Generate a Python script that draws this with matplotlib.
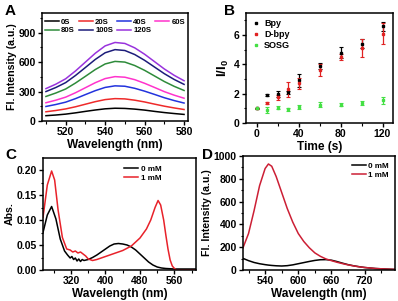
import matplotlib
matplotlib.use("Agg")
import matplotlib.pyplot as plt
from matplotlib.ticker import AutoMinorLocator

plt.rcParams['font.family'] = ['Liberation Sans', 'DejaVu Sans']
plt.rcParams['font.weight'] = 'bold'
plt.rcParams['axes.labelweight'] = 'bold'
plt.rcParams['mathtext.fontset'] = 'custom'
plt.rcParams['mathtext.rm'] = 'Liberation Sans:bold'
plt.rcParams['mathtext.it'] = 'Liberation Sans:bold'
plt.rcParams['mathtext.bf'] = 'Liberation Sans:bold'

# panel A: emission spectra vs irradiation time
wl_a = [510, 515, 520, 525, 530, 535, 540, 545, 550, 555, 560, 565, 570, 575, 580]
a_labels = ["0S", "20S", "40S", "60S", "80S", "100S", "120S"]
a_0s = [54, 61, 70, 83, 98, 112, 124, 130, 128, 121, 111, 98, 86, 76, 67]
a_20s = [94, 107, 123, 145, 171, 197, 218, 228, 225, 212, 194, 172, 151, 133, 117]
a_40s = [148, 168, 192, 228, 269, 309, 342, 358, 354, 333, 304, 271, 237, 208, 183]
a_60s = [186, 212, 243, 288, 339, 390, 432, 452, 446, 421, 384, 342, 299, 263, 232]
a_80s = [250, 285, 326, 387, 455, 524, 581, 607, 600, 565, 516, 459, 402, 353, 311]
a_100s = [300, 341, 391, 464, 545, 627, 695, 727, 718, 677, 618, 550, 482, 423, 373]
a_120s = [330, 375, 430, 510, 600, 690, 765, 800, 790, 745, 680, 605, 530, 465, 410]
a_colors = ['black', '#ee2a2a', '#2233dd', '#ff33cc', '#2e8b3a', '#1c1c7a', '#9933dd']

# panel B: I/I0 vs time
t_b = [0, 10, 20, 30, 40, 60, 80, 100, 120]
bpy = [1.0, 1.9, 2.0, 2.1, 2.9, 3.9, 4.8, 5.4, 6.6]
bpy_err = [0.05, 0.05, 0.2, 0.1, 0.45, 0.2, 0.4, 0.3, 0.3]
dbpy = [1.0, 1.35, 1.75, 2.3, 2.7, 3.6, 4.5, 5.1, 6.1]
dbpy_err = [0.05, 0.05, 0.15, 0.5, 0.35, 0.4, 0.2, 0.6, 0.7]
sosg = [1.0, 0.9, 1.05, 0.95, 1.1, 1.25, 1.25, 1.35, 1.55]
sosg_err = [0.05, 0.2, 0.12, 0.1, 0.15, 0.15, 0.1, 0.15, 0.25]

# panel C: absorption
wl_c0 = [255, 265, 275, 285, 295, 305, 312, 318, 322, 326, 330, 334, 338, 342, 346, 350,
         360, 370, 380, 390, 400, 410, 420, 430, 440, 450, 460, 470, 480, 490, 500, 510,
         520, 530, 540, 560, 580, 610]
abs_0 = [0.075, 0.11, 0.127, 0.102, 0.062, 0.038, 0.03, 0.024, 0.027, 0.021, 0.024, 0.018,
         0.022, 0.017, 0.021, 0.019, 0.021, 0.025, 0.03, 0.036, 0.042, 0.048, 0.052, 0.053,
         0.052, 0.05, 0.046, 0.04, 0.032, 0.024, 0.016, 0.01, 0.006, 0.004, 0.003, 0.002,
         0.002, 0.002]
wl_c1 = [255, 265, 275, 282, 290, 300, 310, 318, 324, 330, 336, 342, 348, 354, 360, 370,
         380, 400, 420, 440, 460, 480, 495, 505, 515, 522, 528, 535, 540, 545, 550, 555,
         560, 565, 575, 610]
abs_1 = [0.105, 0.17, 0.198, 0.18, 0.12, 0.065, 0.042, 0.04, 0.036, 0.038, 0.034, 0.036,
         0.032, 0.028, 0.022, 0.019, 0.021, 0.027, 0.033, 0.039, 0.048, 0.064, 0.082, 0.1,
         0.125, 0.139, 0.13, 0.1, 0.07, 0.042, 0.02, 0.008, 0.003, 0.0, 0.0, 0.0]

# panel D: emission 0 mM vs 1 mM
wl_d = [500, 510, 520, 530, 540, 546, 552, 560, 570, 580, 590, 600, 610, 620, 630, 640,
        650, 660, 670, 680, 690, 700, 710, 720, 740, 760, 775]
fl_1 = [195, 320, 520, 740, 890, 930, 910, 820, 680, 540, 420, 320, 250, 195, 150, 120,
        97, 82, 68, 56, 45, 36, 28, 22, 13, 8, 5]
fl_0 = [102, 82, 66, 55, 47, 43, 40, 37, 35, 38, 45, 55, 65, 75, 84, 90, 91, 86, 74, 60,
        47, 37, 29, 22, 13, 8, 5]

fig = plt.figure(figsize=(3.98, 3.01), dpi=100)
W, H = 398.0, 301.0
XLAB = 8.6
YLAB = 7.6
TICK = 7.5


def box(l, r, t, b):
    return [l / W, 1 - b / H, (r - l) / W, (b - t) / H]


def style(ax):
    for s in ax.spines.values():
        s.set_linewidth(1.1)
    ax.tick_params(direction='out', length=3, width=1, labelsize=TICK, pad=1.5)
    ax.tick_params(which='minor', direction='out', length=1.8, width=0.8)
    ax.xaxis.set_minor_locator(AutoMinorLocator(2))
    ax.yaxis.set_minor_locator(AutoMinorLocator(2))
    for lab in ax.get_xticklabels() + ax.get_yticklabels():
        lab.set_fontweight('bold')


# A
axA = fig.add_axes(box(42, 188, 13, 121))
series_a = [a_0s, a_20s, a_40s, a_60s, a_80s, a_100s, a_120s]
lines = []
for ys, lab, c in zip(series_a, a_labels, a_colors):
    ln, = axA.plot(wl_a, ys, color=c, lw=1.1, label=lab)
    lines.append(ln)
axA.set_xlim(508, 582)
axA.set_ylim(0, 1100)
axA.set_xticks([520, 540, 560, 580])
axA.set_yticks([0, 300, 600, 900])
axA.set_xlabel('Wavelength (nm)', fontsize=XLAB, labelpad=1)
axA.set_ylabel('Fl. Intensity (a.u.)', fontsize=YLAB, labelpad=1)
order = [0, 4, 1, 5, 2, 6, 3]
axA.legend([lines[i] for i in order], [a_labels[i] for i in order], ncol=4, frameon=False,
           loc='upper center', handlelength=1.8, columnspacing=0.5,
           handletextpad=0.3, labelspacing=0.15, borderaxespad=0.3,
           prop={'weight': 'bold', 'size': 5.6})
style(axA)

# B
axB = fig.add_axes(box(246, 393, 13, 123))
axB.errorbar(t_b, bpy, yerr=bpy_err, fmt='s', ms=2, color='black', ecolor='black',
             elinewidth=0.9, capsize=1.5, capthick=0.8, label='Bpy')
axB.errorbar(t_b, dbpy, yerr=dbpy_err, fmt='s', ms=2, color='#e02222', ecolor='#e02222',
             elinewidth=0.9, capsize=1.5, capthick=0.8, label='D-bpy')
axB.errorbar(t_b, sosg, yerr=sosg_err, fmt='s', ms=2, color='#44e044', ecolor='#44e044',
             elinewidth=0.9, capsize=1.5, capthick=0.8, label='SOSG')
axB.set_xlim(-10, 130)
axB.set_ylim(0, 7.5)
axB.set_xticks([0, 40, 80, 120])
axB.set_yticks([0, 2, 4, 6])
axB.set_xlabel('Time (s)', fontsize=XLAB, labelpad=1)
axB.set_ylabel(r'I/I$_0$', fontsize=9.5, labelpad=2)
hb, lb = axB.get_legend_handles_labels()
axB.legend([h[0] for h in hb], lb, loc='upper left', frameon=False, handlelength=0.8,
           handletextpad=0.5, labelspacing=0.2, borderaxespad=0.3,
           prop={'weight': 'bold', 'size': 6.5})
style(axB)

# C
axC = fig.add_axes(box(43, 196, 158, 270))
axC.plot(wl_c0, abs_0, color='black', lw=1.1, label='0 mM')
axC.plot(wl_c1, abs_1, color='#e8222a', lw=1.1, label='1 mM')
axC.set_xlim(255, 610)
axC.set_ylim(0, 0.224)
axC.set_xticks([320, 400, 480, 560])
axC.set_yticks([0, 0.05, 0.10, 0.15, 0.20])
axC.set_yticklabels(['0.00', '0.05', '0.10', '0.15', '0.20'])
axC.set_xlabel('Wavelength (nm)', fontsize=XLAB, labelpad=1)
axC.set_ylabel('Abs.', fontsize=YLAB, labelpad=1)
axC.legend(loc='upper center', bbox_to_anchor=(0.65, 1.0), frameon=False, handlelength=1.8,
           handletextpad=0.3, labelspacing=0.15, borderaxespad=0.5,
           prop={'weight': 'bold', 'size': 5.8})
style(axC)

# D
axD = fig.add_axes(box(243, 395, 156, 270))
axD.plot(wl_d, fl_0, color='black', lw=1.1, label='0 mM')
axD.plot(wl_d, fl_1, color='#cc1f35', lw=1.1, label='1 mM')
axD.set_xlim(500, 775)
axD.set_ylim(0, 1000)
axD.set_xticks([540, 600, 660, 720])
axD.set_yticks([0, 200, 400, 600, 800, 1000])
axD.set_xlabel('Wavelength (nm)', fontsize=XLAB, labelpad=1)
axD.set_ylabel('Fl. Intensity (a.u.)', fontsize=YLAB, labelpad=1)
axD.legend(loc='upper right', frameon=False, handlelength=1.8, handletextpad=0.2,
           labelspacing=0.15, borderaxespad=0.4, prop={'weight': 'bold', 'size': 5.8})
style(axD)

for txt, x, y in [('A', 5, 4), ('B', 224, 4), ('C', 5, 148), ('D', 202, 148)]:
    fig.text(x / W, 1 - y / H, txt, fontsize=11, fontweight='bold', va='top', ha='left')

fig.savefig('out.png', dpi=100)
